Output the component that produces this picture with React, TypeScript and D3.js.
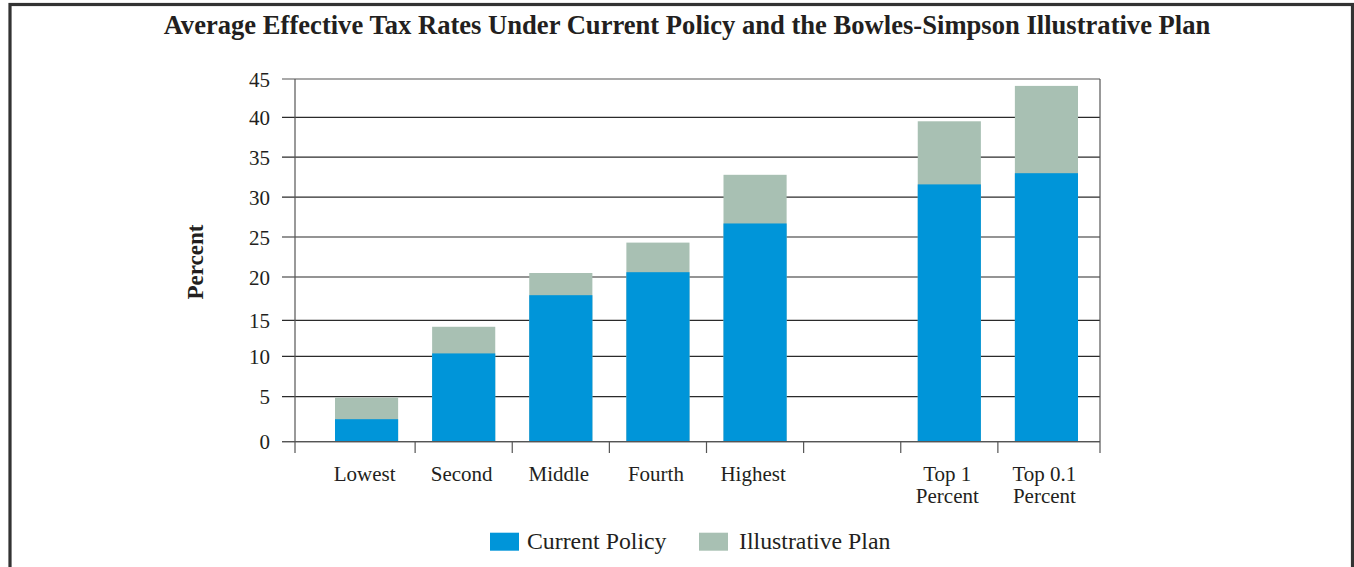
import React from "react";
import * as d3 from "d3";

const categories = ["Lowest", "Second", "Middle", "Fourth", "Highest", "", "Top 1\nPercent", "Top 0.1\nPercent"];
const currentPolicy: (number | null)[] = [2.5, 10.4, 17.9, 20.6, 26.7, null, 31.6, 33.0];
const illustrativePlan: (number | null)[] = [4.9, 14.1, 20.5, 24.3, 32.8, null, 39.5, 44.1];
const yTicks = [0, 5, 10, 15, 20, 25, 30, 35, 40, 45];
const seriesNames = ["Current Policy", "Illustrative Plan"];

const BLUE = "#0095d9";
const GREEN = "#a8c0b3";
const TEXT = "#231f20";
const FONT = "'Liberation Serif', 'Times New Roman', serif";

export default function App() {
  const W = 1354, H = 567;
  // the source plot has slightly uneven gridline spacing; follow it piecewise
  const y = d3.scaleLinear()
    .domain(yTicks)
    .range([441.7, 396.7, 356.3, 320.3, 277, 237, 197.2, 157.2, 117.3, 79]);
  const keys = categories.map((c, i) => c + "#" + i);
  const x = d3.scaleBand<string>()
    .domain(keys)
    .range([318, 1095])
    .paddingInner(0.35)
    .paddingOuter(0.175);
  const step = x.step();
  const axisLeft = 295, axisRight = 1100;
  const y0 = y(0);

  return (
    <svg width={W} height={H} style={{ position: "absolute", left: 0, top: 0 }} fontFamily={FONT}>
      <rect x={10} y={4.5} width={1342.5} height={620} fill="none" stroke="#333" strokeWidth={3.2} />
      <text x={687} y={34} textAnchor="middle" fontWeight="bold" fontSize={26.6} fill={TEXT}>
        Average Effective Tax Rates Under Current Policy and the Bowles-Simpson Illustrative Plan
      </text>

      {/* gridlines & y ticks */}
      {yTicks.map((t) => (
        <g key={t}>
          <line x1={282} x2={axisRight} y1={y(t)} y2={y(t)} stroke={t === 0 || t === 45 ? "#555" : "#2b2b2b"} strokeWidth={1.2} />
          <text x={270} y={y(t) + 7.5} textAnchor="end" fontSize={21} fill={TEXT}>{t}</text>
        </g>
      ))}

      {/* bars: illustrative plan behind, current policy in front */}
      {keys.map((k, i) => {
        const p = illustrativePlan[i];
        const c = currentPolicy[i];
        const bx = x(k)!;
        const bw = x.bandwidth();
        return (
          <g key={k}>
            {p != null && <rect x={bx} y={y(p)} width={bw} height={y0 - y(p)} fill={GREEN} />}
            {c != null && <rect x={bx} y={y(c)} width={bw} height={y0 - y(c)} fill={BLUE} />}
          </g>
        );
      })}

      {/* axes frame */}
      <line x1={axisLeft} x2={axisLeft} y1={79} y2={453} stroke="#555" strokeWidth={1.2} />
      <line x1={axisRight} x2={axisRight} y1={79} y2={453} stroke="#555" strokeWidth={1.2} />
      <line x1={282} x2={axisRight} y1={y0} y2={y0} stroke="#555" strokeWidth={1.3} />
      {keys.slice(0, -1).map((k, i) => {
        const bx = x(k)! - (step - x.bandwidth()) / 2 + step;
        return <line key={"t" + i} x1={bx} x2={bx} y1={y0} y2={453} stroke="#555" strokeWidth={1.2} />;
      })}

      {/* x labels */}
      {keys.map((k, i) => {
        const cx = x(k)! + x.bandwidth() / 2 - 2;
        const lines = categories[i].split("\n");
        return (
          <text key={"l" + i} x={cx} y={481} textAnchor="middle" fontSize={21} fill={TEXT}>
            {lines.map((ln, j) => (
              <tspan key={j} x={cx} dy={j === 0 ? 0 : 22}>{ln}</tspan>
            ))}
          </text>
        );
      })}

      {/* y title */}
      <text transform="translate(203,262) rotate(-90)" textAnchor="middle" fontWeight="bold" fontSize={23} fill={TEXT}>
        Percent
      </text>

      {/* legend */}
      <rect x={490} y={532.7} width={29} height={18} fill={BLUE} />
      <text x={527} y={549} fontSize={23.8} fill={TEXT}>{seriesNames[0]}</text>
      <rect x={699} y={532.7} width={29} height={18} fill={GREEN} />
      <text x={739} y={549} fontSize={23.8} fill={TEXT}>{seriesNames[1]}</text>
    </svg>
  );
}
